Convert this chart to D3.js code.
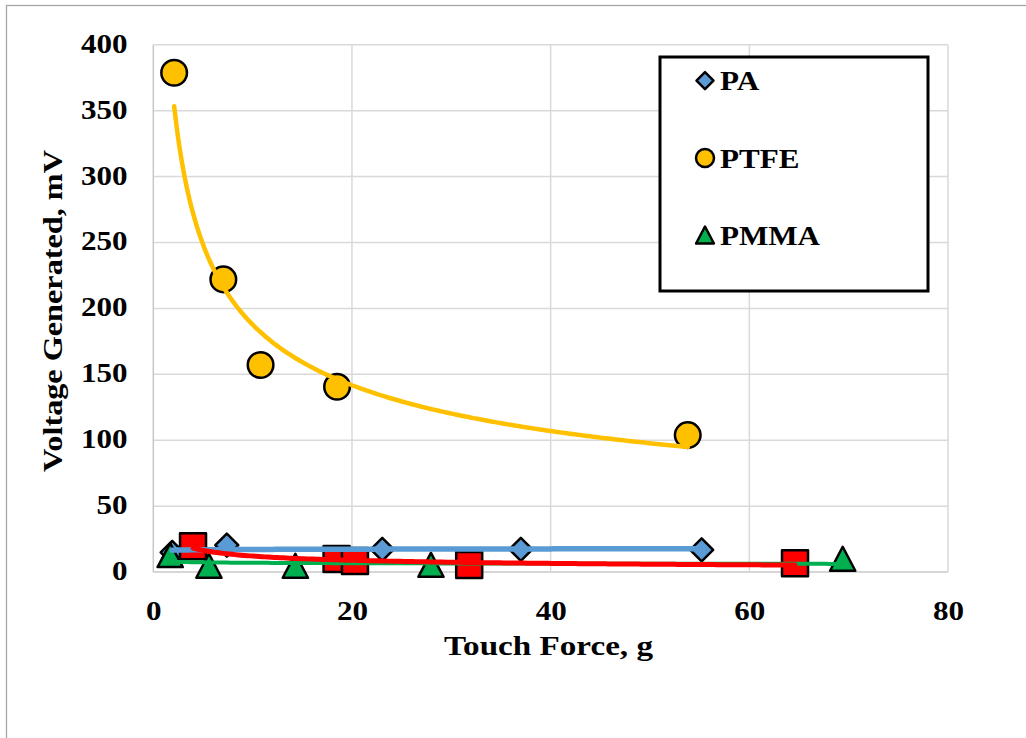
<!DOCTYPE html>
<html>
<head>
<meta charset="utf-8">
<script src="https://cdn.jsdelivr.net/npm/d3@7"></script>
<style>
  html, body { margin: 0; padding: 0; background: #fff; }
  svg { display: block; }
</style>
</head>
<body>
<svg id="chart" width="1026" height="738"></svg>
<script>
// ---- data ----
const xTicks = [0, 20, 40, 60, 80];
const yTicks = [0, 50, 100, 150, 200, 250, 300, 350, 400];
const xTitle = "Touch Force, g";
const yTitle = "Voltage Generated, mV";
const legendNames = ["PA", "PTFE", "PMMA"];

const paForce = [1.9, 7.4, 23.05, 37.0, 55.2];
const paVoltage = [15.0, 20.5, 17.3, 17.3, 16.8];

const ptfeForce = [2.1, 7.05, 10.8, 18.5, 53.8];
const ptfeVoltage = [378.7, 222.0, 157.1, 140.6, 103.9];

const pmmaForce = [1.7, 5.6, 14.3, 27.95, 69.4];
const pmmaVoltage = [12.9, 4.8, 4.8, 5.5, 10.1];

const redForce = [4.0, 18.45, 20.3, 31.8, 64.6];
const redVoltage = [19.7, 9.9, 8.4, 5.3, 6.8];

// ---- layout ----
const FONT = '"Liberation Serif", "Times New Roman", Tinos, serif';
const svg = d3.select("#chart");
const x = d3.scaleLinear().domain([0, 80]).range([153.3, 948]);
const y = d3.scaleLinear().domain([0, 400]).range([572.1, 44.7]);

function styleText(sel, size) {
  sel.style("font-family", FONT).style("font-weight", "bold").style("font-size", size + "px").attr("fill", "#000");
}
function stretch(sel, k) {
  sel.each(function () {
    const w = this.getComputedTextLength();
    d3.select(this).attr("textLength", w * k).attr("lengthAdjust", "spacingAndGlyphs");
  });
}

// outer chart-area border
svg.append("rect").attr("x", 6.5).attr("y", 5.5).attr("width", 1040).attr("height", 760)
  .attr("fill", "#fff").attr("stroke", "#a6a6a6").attr("stroke-width", 1.3);

// gridlines
const gGrid = svg.append("g");
gGrid.selectAll("line.h").data(yTicks).join("line")
  .attr("x1", x(0)).attr("x2", x(80)).attr("y1", d => y(d)).attr("y2", d => y(d))
  .attr("stroke", d => d === 0 ? "#c8c8c8" : "#d9d9d9").attr("stroke-width", 1.5);
gGrid.selectAll("line.v").data(xTicks).join("line")
  .attr("y1", y(0)).attr("y2", y(400)).attr("x1", d => x(d)).attr("x2", d => x(d))
  .attr("stroke", d => d === 0 ? "#c8c8c8" : "#d9d9d9").attr("stroke-width", 1.5);

// axes (labels only)
const xAxis = svg.append("g").attr("transform", `translate(0,${y(0)})`)
  .call(d3.axisBottom(x).tickValues(xTicks).tickSize(0).tickPadding(0).tickFormat(d3.format("d")));
xAxis.select(".domain").remove();
xAxis.selectAll("text").attr("dy", null).attr("y", 48).call(styleText, 27);
stretch(xAxis.selectAll("text"), 1.15);

const yAxis = svg.append("g").attr("transform", `translate(127.5,0)`)
  .call(d3.axisLeft(y).tickValues(yTicks).tickSize(0).tickPadding(0).tickFormat(d3.format("d")));
yAxis.select(".domain").remove();
yAxis.selectAll("text").attr("dy", null).attr("x", 0).attr("y", 7.5).call(styleText, 27);
stretch(yAxis.selectAll("text"), 1.15);

// axis titles
svg.append("text").attr("x", 548.5).attr("y", 655).attr("text-anchor", "middle")
  .call(styleText, 28).attr("textLength", 209).attr("lengthAdjust", "spacingAndGlyphs").text(xTitle);
svg.append("text").attr("transform", "translate(62,311) rotate(-90)").attr("text-anchor", "middle")
  .call(styleText, 28).attr("textLength", 322).attr("lengthAdjust", "spacingAndGlyphs").text(yTitle);

// marker shapes
const diamond = s => `M0,${-s}L${s},0L0,${s}L${-s},0Z`;
const triangle = s => `M0,${-s}L${s * 1.05},${s}L${-s * 1.05},${s}Z`;
const square = s => `M${-s},${-s}H${s}V${s}H${-s}Z`;
const circle = r => `M${r},0A${r},${r} 0 1,1 ${-r},0A${r},${r} 0 1,1 ${r},0Z`;

const series = [
  { f: paForce, v: paVoltage, color: "#5B9BD5", shape: diamond(11.5), lw: 5.5 },
  { f: ptfeForce, v: ptfeVoltage, color: "#FFC000", shape: circle(12.8), lw: 4.5 },
  { f: pmmaForce, v: pmmaVoltage, color: "#00B050", shape: triangle(12), lw: 4 },
  { f: redForce, v: redVoltage, color: "#FF0000", shape: square(13), lw: 5 }
];

// markers
series.forEach(s => {
  svg.append("g").selectAll("path").data(d3.range(s.f.length)).join("path")
    .attr("transform", i => `translate(${x(s.f[i])},${y(s.v[i])})`)
    .attr("d", s.shape).attr("fill", s.color).attr("stroke", "#000")
    .attr("stroke-width", 2.5).attr("stroke-linejoin", "round");
});

// power trend lines (least squares in log-log space)
function powerFit(fx, vy) {
  const lx = fx.map(Math.log), ly = vy.map(Math.log);
  const mx = d3.mean(lx), my = d3.mean(ly);
  const b = d3.sum(lx, (d, i) => (d - mx) * (ly[i] - my)) / d3.sum(lx, d => (d - mx) * (d - mx));
  const a = Math.exp(my - b * mx);
  return t => a * Math.pow(t, b);
}
const line = d3.line().x(d => x(d[0])).y(d => y(d[1]));
series.forEach(s => {
  const fn = powerFit(s.f, s.v);
  const [lo, hi] = d3.extent(s.f);
  const pts = d3.range(0, 201).map(k => { const t = lo + (hi - lo) * k / 200; return [t, fn(t)]; });
  svg.append("path").datum(pts).attr("d", line).attr("fill", "none")
    .attr("stroke", s.color).attr("stroke-width", s.lw).attr("stroke-linecap", "round");
});

// legend
const lg = svg.append("g");
lg.append("rect").attr("x", 660).attr("y", 57).attr("width", 268).attr("height", 234)
  .attr("fill", "#fff").attr("stroke", "#000").attr("stroke-width", 3);
const legShapes = [diamond(8.5), circle(9), triangle(8.5)];
const legY = [80.7, 158, 235];
legendNames.forEach((name, i) => {
  lg.append("path").attr("transform", `translate(705,${legY[i]})`).attr("d", legShapes[i])
    .attr("fill", series[i].color).attr("stroke", "#000").attr("stroke-width", 2.5).attr("stroke-linejoin", "round");
  const t = lg.append("text").attr("x", 720).attr("y", legY[i] + 9.5).call(styleText, 27).text(name);
  stretch(t, 1.15);
});
</script>
</body>
</html>
